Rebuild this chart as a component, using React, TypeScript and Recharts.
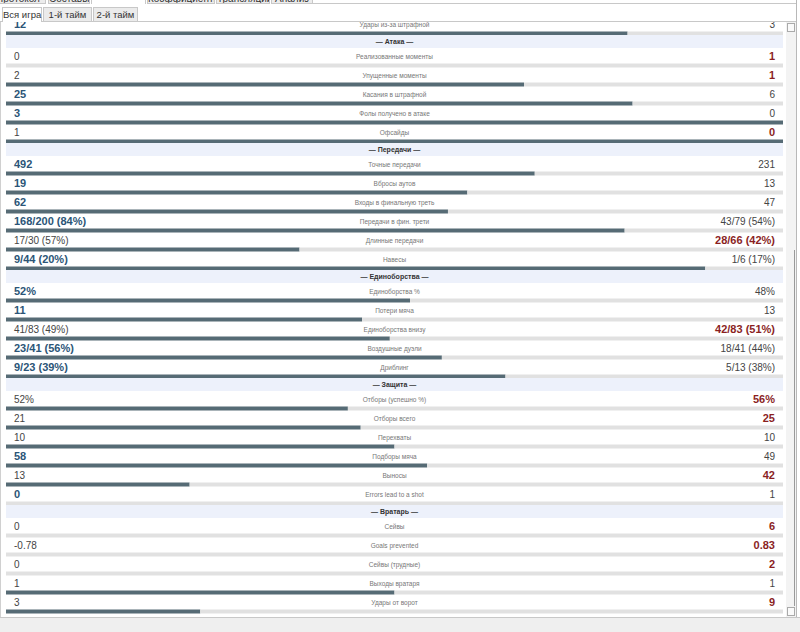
import React from "react";
import { BarChart, Bar, XAxis, YAxis } from "recharts";

// sections of the match stats table (first one is the tail of a section scrolled off)
const SECTION_TITLES = ["", "Атака", "Передачи", "Единоборства", "Защита", "Вратарь"];
const SECTION_SIZES = [1, 5, 6, 5, 6, 5];

const STAT_LABELS = [
  "Удары из-за штрафной",
  "Реализованные моменты",
  "Упущенные моменты",
  "Касания в штрафной",
  "Фолы получено в атаке",
  "Офсайды",
  "Точные передачи",
  "Вбросы аутов",
  "Входы в финальную треть",
  "Передачи в фин. трети",
  "Длинные передачи",
  "Навесы",
  "Единоборства %",
  "Потери мяча",
  "Единоборства внизу",
  "Воздушные дуэли",
  "Дриблинг",
  "Отборы (успешно %)",
  "Отборы всего",
  "Перехваты",
  "Подборы мяча",
  "Выносы",
  "Errors lead to a shot",
  "Сейвы",
  "Goals prevented",
  "Сейвы (трудные)",
  "Выходы вратаря",
  "Удары от ворот",
];

const HOME_TEXT = [
  "12", "0", "2", "25", "3", "1",
  "492", "19", "62", "168/200 (84%)", "17/30 (57%)", "9/44 (20%)",
  "52%", "11", "41/83 (49%)", "23/41 (56%)", "9/23 (39%)",
  "52%", "21", "10", "58", "13", "0",
  "0", "-0.78", "0", "1", "3",
];

const AWAY_TEXT = [
  "3", "1", "1", "6", "0", "0",
  "231", "13", "47", "43/79 (54%)", "28/66 (42%)", "1/6 (17%)",
  "48%", "13", "42/83 (51%)", "18/41 (44%)", "5/13 (38%)",
  "56%", "25", "10", "49", "42", "1",
  "6", "0.83", "2", "1", "9",
];

// numbers the bar split is drawn from
const HOME_COUNT = [
  12, 0, 2, 25, 3, 1,
  492, 19, 62, 168, 17, 9,
  52, 11, 41, 23, 9,
  11, 21, 10, 58, 13, 0,
  0, -0.78, 0, 1, 3,
];
const AWAY_COUNT = [
  3, 1, 1, 6, 0, 0,
  231, 13, 47, 43, 28, 1,
  48, 13, 42, 18, 5,
  14, 25, 10, 49, 42, 1,
  6, 0.83, 2, 1, 9,
];

// which side is highlighted: h = home, a = away
const LEADER = [
  "h", "a", "a", "h", "h", "a",
  "h", "h", "h", "h", "a", "h",
  "h", "h", "a", "h", "h",
  "a", "a", "", "h", "a", "h",
  "a", "a", "a", "", "a",
];

const ROW_H = 19;
const HEADER_H = 13;
const BAR_W = 777;
const BAR_LEFT = 6;
const BAR_OFFSET = 7.5;

const DARK = "#566b75";
const LIGHT = "#e1e1e1";
const BLUE = "#2b5577";
const RED = "#8b1f1f";
const FONT = "'Liberation Sans Narrow', 'Liberation Sans', Arial, sans-serif";

// one tick per row: left value, stat name, right value, above the bar
function RowTick(props: any) {
  const i = Number(props.payload.value);
  const y = props.y - 9;
  const homeLead = LEADER[i] === "h";
  const awayLead = LEADER[i] === "a";
  return (
    <g fontFamily={FONT}>
      <text
        x={9}
        y={y}
        dominantBaseline="central"
        fontSize={homeLead ? 11 : 10}
        fontWeight={homeLead ? "bold" : "normal"}
        fill={homeLead ? BLUE : "#444"}
      >
        {HOME_TEXT[i]}
      </text>
      <text
        x={1 + BAR_W / 2}
        y={y}
        textAnchor="middle"
        dominantBaseline="central"
        fontSize={6.5}
        fill="#777"
      >
        {STAT_LABELS[i]}
      </text>
      <text
        x={1 + BAR_W - 8}
        y={y}
        textAnchor="end"
        dominantBaseline="central"
        fontSize={awayLead ? 11 : 10}
        fontWeight={awayLead ? "bold" : "normal"}
        fill={awayLead ? RED : "#444"}
      >
        {AWAY_TEXT[i]}
      </text>
    </g>
  );
}

function Section({ start, count, title }: { start: number; count: number; title: string }) {
  const data = [];
  for (let i = start; i < start + count; i++) {
    const h = Math.max(0, HOME_COUNT[i]);
    const a = Math.max(0, AWAY_COUNT[i]);
    const total = h + a;
    data.push({
      key: String(i),
      home: total > 0 ? h / total : 0,
      away: total > 0 ? a / total : 1,
    });
  }
  return (
    <>
      {title && (
        <div
          style={{
            position: "relative",
            marginLeft: BAR_LEFT,
            width: BAR_W,
            height: HEADER_H,
            lineHeight: HEADER_H + "px",
            background: "#edf1fb",
            textAlign: "center",
            fontSize: 7,
            fontWeight: "bold",
            color: "#333",
          }}
        >
          — {title} —
        </div>
      )}
      <div style={{ position: "relative", marginLeft: BAR_LEFT - 1, height: count * ROW_H }}>
        <div style={{ position: "absolute", left: 0, top: 0 }}>
          <BarChart
            width={BAR_W + 1}
            height={count * ROW_H + BAR_OFFSET}
            data={data}
            layout="vertical"
            margin={{ top: BAR_OFFSET, right: 0, bottom: 0, left: 0 }}
          >
            <XAxis type="number" domain={[0, 1]} hide />
            <YAxis
              type="category"
              dataKey="key"
              width={1}
              axisLine={false}
              tickLine={false}
              interval={0}
              tick={(p: any) => <RowTick {...p} />}
            />
            <Bar dataKey="home" stackId="s" fill={DARK} barSize={4} isAnimationActive={false} />
            <Bar dataKey="away" stackId="s" fill={LIGHT} barSize={4} isAnimationActive={false} />
          </BarChart>
        </div>
      </div>
    </>
  );
}

const TOP_TABS = ["Протокол", "Составы", "", "Коэффициенты", "Трансляции", "Анализ"];
const TOP_TAB_X = [-10, 48, 91, 147, 216, 271];
const TOP_TAB_W = [56, 42, 55, 68, 54, 42];
const SUB_TABS = ["Вся игра", "1-й тайм", "2-й тайм"];
const SUB_TAB_X = [2, 43, 93];
const SUB_TAB_W = [40, 49, 45];

export default function App() {
  let start = 0;
  const sections = SECTION_SIZES.map((n, s) => {
    const el = <Section key={s} start={start} count={n} title={SECTION_TITLES[s]} />;
    start += n;
    return el;
  });

  return (
    <div
      style={{
        position: "fixed",
        left: 0,
        top: 0,
        width: 800,
        height: 632,
        background: "#fff",
        overflow: "hidden",
        fontFamily: FONT,
      }}
    >
      {/* top tabs, mostly scrolled out of view */}
      {TOP_TABS.map((t, i) => (
        <div
          key={i}
          style={{
            position: "absolute",
            left: TOP_TAB_X[i],
            top: -8,
            width: TOP_TAB_W[i],
            height: 12,
            boxSizing: "border-box",
            border: "1px solid #c8c8c8",
            borderBottom: t ? "1px solid #c8c8c8" : "none",
            background: t ? "#ececec" : "#fff",
            fontSize: 10,
            lineHeight: "12px",
            textAlign: "center",
            whiteSpace: "nowrap",
            overflow: "hidden",
            color: "#333",
          }}
        >
          {t}
        </div>
      ))}
      <div style={{ position: "absolute", left: 313, top: 3, width: 484, height: 1, background: "#c8c8c8" }} />

      {/* sub tabs */}
      {SUB_TABS.map((t, i) => (
        <div
          key={t}
          style={{
            position: "absolute",
            left: SUB_TAB_X[i],
            top: 7,
            width: SUB_TAB_W[i],
            height: 15,
            boxSizing: "border-box",
            border: "1px solid #c8c8c8",
            borderBottom: i === 0 ? "none" : "1px solid #c8c8c8",
            background: i === 0 ? "#fff" : "#ebebeb",
            fontSize: 9.5,
            lineHeight: "13px",
            textAlign: "center",
            whiteSpace: "nowrap",
            color: "#333",
            zIndex: 2,
          }}
        >
          {t}
        </div>
      ))}
      <div style={{ position: "absolute", left: 0, top: 21, width: 797, height: 1, background: "#c8c8c8" }} />

      {/* stats panel */}
      <div
        style={{
          position: "absolute",
          left: 0,
          top: 22,
          width: 786,
          height: 595,
          overflow: "hidden",
          borderLeft: "1px solid #d0d0d0",
          boxSizing: "border-box",
        }}
      >
        <div style={{ position: "absolute", left: -1, top: -6.5, width: 786 }}>{sections}</div>
      </div>

      {/* scrollbar */}
      <div style={{ position: "absolute", left: 786, top: 22, width: 10, height: 595, background: "#f3f3f3" }} />
      <div
        style={{
          position: "absolute",
          left: 787,
          top: 23,
          width: 8,
          height: 9,
          boxSizing: "border-box",
          border: "1px solid #aaa",
          background: "#fafafa",
        }}
      />
      <div
        style={{
          position: "absolute",
          left: 787,
          top: 250,
          width: 8,
          height: 356,
          boxSizing: "border-box",
          borderRight: "1px solid #999",
          background: "#f3f3f3",
        }}
      />
      <div
        style={{
          position: "absolute",
          left: 787,
          top: 607,
          width: 8,
          height: 9,
          boxSizing: "border-box",
          border: "1px solid #aaa",
          background: "#fafafa",
        }}
      />
      <div style={{ position: "absolute", left: 796, top: 0, width: 1, height: 618, background: "#b8b8b8" }} />

      {/* bottom strip */}
      <div style={{ position: "absolute", left: 0, top: 617, width: 800, height: 15, background: "#efefef", borderTop: "1px solid #c8c8c8" }} />
    </div>
  );
}
